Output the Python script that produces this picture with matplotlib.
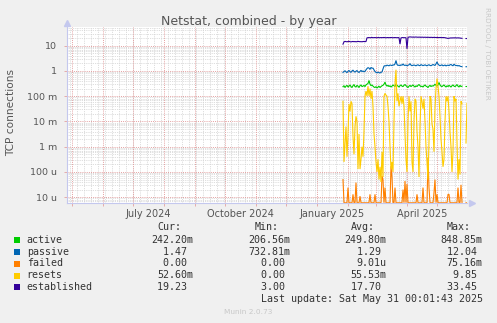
import numpy as np
import pandas as pd
import matplotlib
matplotlib.use("Agg")
import matplotlib.pyplot as plt
from matplotlib.patches import Rectangle
from matplotlib.ticker import NullLocator

W, H = 497, 323
nan = np.nan

# --- data: one sample per day starting 2025-01-27 ---
start_day = "2025-01-27"
last_update = pd.Timestamp("2025-05-31 00:01:43")

active = [
    0.24, 0.26, 0.22, 0.25, 0.27, 0.23, 0.25, 0.28, 0.24, 0.22,
    0.26, 0.29, 0.24, 0.23, 0.27, 0.25, 0.22, 0.26, 0.28, 0.24,
    0.25, 0.27, 0.24, 0.28, 0.30, 0.32, 0.42, 0.30, 0.26, 0.28,
    0.25, 0.23, 0.22, 0.24, 0.21, 0.23, 0.25, 0.22, 0.24, 0.26,
    0.27, 0.30, 0.36, 0.28, 0.25, 0.27, 0.24, 0.26, 0.23, 0.25,
    0.28, 0.26, 0.24, 0.31, 0.27, 0.25, 0.23, 0.26, 0.28, 0.25,
    0.24, 0.27, 0.29, 0.26, 0.24, 0.22, 0.25, 0.27, 0.24, 0.26,
    0.28, 0.25, 0.23, 0.26, 0.24, 0.27, 0.29, 0.26, 0.24, 0.25,
    0.23, 0.26, 0.28, 0.25, 0.24, 0.22, 0.25, 0.27, 0.24, 0.26,
    0.25, 0.27, 0.30, 0.27, 0.25, 0.28, 0.35, 0.28, 0.25, 0.24,
    0.26, 0.28, 0.25, 0.23, 0.26, 0.24, 0.27, 0.25, 0.23, 0.26,
    0.28, 0.25, 0.24, 0.26, 0.29, 0.25, 0.23, 0.27, 0.24, 0.25,
    nan, nan, nan, 0.242, 0.242,
]
passive = [
    0.88, 0.95, 1.02, 0.92, 0.86, 0.97, 1.05, 0.93, 0.88, 1.00,
    1.08, 0.95, 0.90, 0.98, 1.04, 0.92, 0.87, 0.96, 1.06, 0.94,
    1.00, 0.93, 0.97, 1.10, 1.25, 1.35, 1.30, 1.15, 1.38, 1.28,
    1.30, 1.10, 0.95, 0.88, 0.84, 0.90, 0.86, 0.83, 0.88, 0.92,
    1.20, 1.55, 1.62, 1.58, 1.70, 1.65, 1.60, 1.72, 1.68, 1.63,
    1.75, 1.70, 1.90, 2.60, 1.80, 1.65, 1.70, 1.62, 1.75, 1.68,
    1.90, 1.70, 1.65, 1.72, 1.60, 1.68, 1.75, 1.95, 1.70, 1.62,
    1.68, 1.72, 1.66, 1.60, 1.70, 1.75, 1.65, 1.62, 1.78, 1.70,
    1.63, 1.68, 1.74, 1.66, 1.60, 1.70, 1.76, 1.65, 1.62, 1.70,
    1.80, 1.72, 1.65, 1.90, 2.30, 1.85, 1.70, 1.62, 1.68, 1.75,
    1.60, 1.65, 1.72, 1.58, 1.66, 1.70, 1.62, 1.75, 1.80, 1.68,
    1.60, 1.85, 1.70, 1.62, 1.66, 1.58, 1.64, 1.55, 1.50, 1.48,
    nan, nan, nan, 1.47, 1.47,
]
failed = [
    5e-5, 0, 0, 0, 0, 2.4e-5, 0, 0, 0, 0,
    1.3e-5, 0, 0, 3.8e-5, 0, 0, 0, 1.1e-5, 0, 0,
    0, 0, 0, 0, 0, 0, 0, 1.3e-5, 0, 0,
    0, 0, 1.3e-5, 0, 0, 0, 0, 0, 0, 7e-5,
    5e-5, 0, 2.4e-5, 0, 0, 0, 0, 0, 1.7e-4, 6e-5,
    0, 0, 2.4e-5, 0, 0, 0, 0, 0, 0, 0,
    2e-5, 0, 4.4e-5, 0, 3.3e-5, 0, 0, 0, 0, 0,
    0, 0, 0, 0, 1.3e-5, 0, 0, 0, 0, 0,
    2.4e-5, 0, 0, 0, 0, 3.7e-4, 2.4e-5, 0, 0, 0,
    0, 1.5e-5, 5e-5, 0, 1.3e-5, 0, 0, 0, 0, 0,
    0, 0, 0, 0, 0, 1.3e-5, 1.3e-5, 0, 0, 0,
    0, 0, 0, 0, 0, 2.4e-5, 0, 0, 3.1e-5, 0,
    nan, nan, nan, 0, 0,
]
resets = [
    6.3e-2, 2.5e-4, 1.3e-3, 6.3e-3, 4.0e-4, 3.2e-3, 5.0e-2, 2.5e-2, 6.3e-2, 5.0e-2,
    2.5e-3, 5.0e-4, 6.3e-3, 1.6e-2, 1.0e-2, 1.3e-4, 3.2e-3, 1.3e-4, 3.2e-4, 1.0e-3,
    4.0e-4, 4.0e-3, 1.0e-1, 1.6e-1, 1.0e-1, 2.5e-1, 1.0e-1, 2.0e-1, 7.9e-2, 1.6e-1,
    4.0e-2, 3.2e-3, 1.0e-3, 2.5e-4, 1.0e-4, 3.2e-4, 5.0e-5, 1.6e-4, 4.0e-5, 6.3e-4,
    6.3e-5, 1.0e-1, 1.3e-1, 1.1e-1, 1.0e-1, 4.0e-2, 1.0e-2, 1.0e-3, 1.3e-4, 2.5e-4,
    1.0e-4, 1.0e-2, 3.2e-1, 1.12, 6.3e-2, 1.3e-1, 4.0e-2, 6.3e-2, 1.0e-1, 5.0e-2,
    1.0e-1, 4.0e-2, 3.2e-3, 3.2e-4, 1.0e-4, 1.0e-2, 1.0e-1, 2.5e-2, 6.3e-2, 2.5e-4,
    1.0e-4, 1.0e-2, 7.9e-2, 6.3e-2, 4.0e-3, 1.0e-3, 6.3e-5, 6.3e-3, 1.0e-1, 6.3e-2,
    3.2e-2, 7.9e-2, 1.0e-2, 1.0e-3, 2.5e-4, 5.0e-5, 1.6e-3, 1.0e-1, 7.9e-2, 7.9e-3,
    5.0e-3, 6.3e-4, 3.2e-2, 2.0e-1, 5.0e-1, 2.5e-1, 1.0e-1, 1.6e-2, 2.0e-3, 6.3e-4,
    1.6e-4, 3.2e-4, 1.0e-2, 1.0e-1, 6.3e-2, 1.0e-1, 2.5e-2, 4.0e-3, 1.0e-3, 1.0e-4,
    6.3e-4, 1.0e-1, 6.3e-2, 7.9e-2, 1.6e-3, 5.0e-5, 3.2e-4, 7.9e-5, 6.3e-2, 5.0e-2,
    nan, nan, nan, 1.4e-3, 5.26e-2,
]
established = [
    11.5, 14.2, 14.8, 14.5, 14.3, 14.6, 14.9, 14.4, 14.2, 14.5,
    14.7, 14.4, 14.6, 14.3, 14.5, 14.8, 14.6, 14.4, 14.5, 14.3,
    14.6, 14.7, 14.5, 14.6, 20.5, 20.8, 21.0, 20.6, 20.9, 21.2,
    20.7, 20.9, 21.0, 20.8, 20.6, 21.1, 20.9, 20.7, 21.0, 20.8,
    20.9, 21.2, 20.8, 20.6, 20.9, 21.0, 20.7, 20.9, 21.1, 20.8,
    20.6, 20.9, 21.0, 20.8, 20.7, 20.9, 20.8, 11.5, 20.5, 20.8,
    21.0, 20.6, 20.9, 20.5, 7.5, 21.5, 22.0, 22.3, 22.1, 21.8,
    22.0, 21.7, 21.9, 22.1, 21.8, 21.6, 21.9, 21.7, 21.5, 21.8,
    21.6, 21.4, 21.7, 21.5, 21.3, 21.6, 21.4, 21.2, 21.5, 21.3,
    21.1, 21.4, 21.2, 21.0, 21.3, 21.1, 20.9, 21.2, 21.0, 20.8,
    21.1, 20.9, 20.7, 20.3, 19.8, 19.5, 19.8, 20.1, 20.4, 20.2,
    20.5, 20.3, 20.6, 20.4, 20.2, 20.5, 20.3, 20.1, 19.8, 19.6,
    nan, nan, nan, 19.23, 19.23,
]

series_names = ["active", "passive", "failed", "resets", "established"]
series_colors = ["#00CC00", "#0066B3", "#FF8000", "#FFCC00", "#330099"]
cur_vals = ["242.20m", "1.47", "0.00", "52.60m", "19.23"]
min_vals = ["206.56m", "732.81m", "0.00", "0.00", "3.00"]
avg_vals = ["249.80m", "1.29", "9.01u", "55.53m", "17.70"]
max_vals = ["848.85m", "12.04", "75.16m", "9.85", "33.45"]
col_headers = ["Cur:", "Min:", "Avg:", "Max:"]

y_ticks = [1e-5, 1e-4, 1e-3, 1e-2, 1e-1, 1, 10]
y_ticklabels = ["10 u", "100 u", "1 m", "10 m", "100 m", "1", "10"]
x_labels = ["July 2024", "October 2024", "January 2025", "April 2025"]
x_label_dates = ["2024-07-16", "2024-10-16", "2025-01-16", "2025-04-16"]

df = pd.DataFrame({
    "active": active, "passive": passive, "failed": failed,
    "resets": resets, "established": established,
}, index=pd.date_range(start_day, periods=len(active), freq="D"))

# --- figure ---
BG = "#F0F0F0"
AXIS = "#C4C8EE"
MGRID = "#E3A0A0"
GRID = "#D2D2D2"
TXT = "#555555"

fig = plt.figure(figsize=(W / 100, H / 100), dpi=100, facecolor=BG)
ax = fig.add_axes([67 / W, 1 - 203 / H, 400 / W, 176 / H])
ax.set_facecolor("white")
ax.set_yscale("log")
ymin, ymax = 5.9e-6, 55
ax.set_ylim(ymin, ymax)
x0, x1 = last_update - pd.Timedelta(days=400), last_update
ax.set_xlim(x0, x1)

# grid like rrdtool: grey minor, red major, all dotted
dots = (0, (1, 1.2))
for k in range(-6, 2):
    for m in range(2, 10):
        ax.axhline(m * 10.0 ** k, color=GRID, lw=0.6, ls=dots, zorder=0)
    ax.axhline(10.0 ** k, color=MGRID, lw=0.7, ls=dots, zorder=0.5)
for d in pd.date_range(x0, x1, freq="W-MON"):
    ax.axvline(d, color=GRID, lw=0.6, ls=dots, zorder=0)
months = pd.date_range(x0, x1, freq="MS")
for d in months:
    ax.axvline(d, color=MGRID, lw=0.7, ls=dots, zorder=0.5)

# series, drawn in rrdtool order
for i, (name, color) in enumerate(zip(series_names, series_colors)):
    vals = df[name].clip(lower=ymin * 1.02)
    ax.plot(df.index, vals, color=color, lw=0.8, zorder=2 + i,
            solid_joinstyle="miter")

# axes
for s in ["top", "right"]:
    ax.spines[s].set_visible(False)
for s in ["left", "bottom"]:
    ax.spines[s].set_color(AXIS)
    ax.spines[s].set_linewidth(0.8)
    ax.spines[s].set_zorder(10)
ax.plot([1.012], [0], marker=">", ms=4, color=AXIS, transform=ax.transAxes,
        clip_on=False, zorder=10)
ax.plot([0], [1.025], marker="^", ms=4, color=AXIS, transform=ax.transAxes,
        clip_on=False, zorder=10)

ax.set_yticks(y_ticks, y_ticklabels)
ax.yaxis.set_minor_locator(NullLocator())
ax.tick_params(axis="y", length=2, width=0.6, color=MGRID, pad=5,
               labelsize=6.8, labelcolor=TXT)

ax.set_xticks(months, [""] * len(months))
ax.set_xticks(pd.to_datetime(x_label_dates), x_labels, minor=True)
ax.tick_params(axis="x", which="major", length=2, width=0.6, color=MGRID)
ax.tick_params(axis="x", which="minor", length=0, pad=4,
               labelsize=7, labelcolor=TXT)

# texts
fig.text(248.5 / W, 1 - 24.5 / H, "Netstat, combined - by year",
         ha="center", va="baseline", fontsize=9, color=TXT)
fig.text(11 / W, 1 - 113 / H, "TCP connections", rotation=90,
         ha="center", va="center", fontsize=7.6, color=TXT)
fig.text(487 / W, 1 - 53 / H, "RRDTOOL / TOBI OETIKER", rotation=270,
         ha="center", va="center", fontsize=5.2, color="#C8C8C8")

# legend table
mono = "DejaVu Sans Mono"
fs = 7.2
cw = 6.02  # monospace char width in px
col_ends = [193.3, 290.7, 386.7, 482.7]
for hdr, xe in zip(col_headers, col_ends):
    fig.text((xe - 2 * cw) / W, 1 - 227 / H, hdr, ha="right", va="center",
             family=mono, fontsize=fs, color="#333333")

row_y = [239.7, 251.7, 263.5, 275.5, 287.3]
for i, name in enumerate(series_names):
    y = row_y[i]
    fig.add_artist(Rectangle((14 / W, 1 - (y + 3) / H), 6 / W, 6 / H,
                             transform=fig.transFigure,
                             facecolor=series_colors[i], edgecolor="none"))
    fig.text(26.7 / W, 1 - y / H, name, ha="left", va="center",
             family=mono, fontsize=fs, color="#333333")
    for vals, xe in zip([cur_vals, min_vals, avg_vals, max_vals], col_ends):
        v = vals[i]
        if v[-1] not in "mu":
            v = v + " "
        fig.text((xe - len(v) * cw) / W, 1 - y / H, v, ha="left", va="center",
                 family=mono, fontsize=fs, color="#333333")

upd = "Last update: " + last_update.strftime("%a %b %d %H:%M:%S %Y")
fig.text(482.7 / W, 1 - 299.3 / H, upd, ha="right", va="center",
         family=mono, fontsize=fs, color="#333333")
fig.text(248 / W, 1 - 312 / H, "Munin 2.0.73", ha="center", va="center",
         fontsize=5.3, color="#C8C8C8")

fig.savefig("out.png", dpi=100, facecolor=BG)
